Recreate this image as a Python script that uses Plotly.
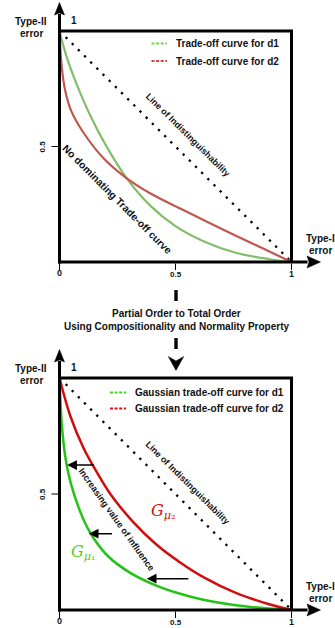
import plotly.graph_objects as go

# ---------------- data ----------------
# top panel: two (non-dominating) trade-off curves
d1_x = [0, 0.03, 0.07, 0.13, 0.2, 0.29, 0.39, 0.5, 0.62, 0.76, 0.9, 1]
d1_y = [1, 0.89, 0.78, 0.64, 0.505, 0.362, 0.245, 0.155, 0.09, 0.04, 0.013, 0]
d2_x = [0, 0.01, 0.025, 0.05, 0.1, 0.19, 0.29, 0.4, 0.52, 0.64, 0.76, 0.88, 1]
d2_y = [1, 0.84, 0.74, 0.655, 0.565, 0.449, 0.362, 0.292, 0.232, 0.172, 0.114, 0.057, 0]
# bottom panel: Gaussian trade-off curves
g1_x = [0, 0.01, 0.025, 0.047, 0.09, 0.133, 0.205, 0.305, 0.42, 0.52, 0.62, 0.76, 0.9, 1]
g1_y = [1, 0.80, 0.66, 0.552, 0.422, 0.332, 0.236, 0.160, 0.104, 0.07, 0.044, 0.02, 0.006, 0]
g2_x = [0, 0.047, 0.104, 0.162, 0.219, 0.319, 0.42, 0.52, 0.62, 0.76, 0.9, 1]
g2_y = [1, 0.835, 0.697, 0.592, 0.50, 0.378, 0.28, 0.205, 0.142, 0.074, 0.026, 0]
# line of indistinguishability
diag_x = [0, 1]
diag_y = [1, 0]
# arrows (from red curve to green curve) in bottom panel
arrow_y = [0.625, 0.329, 0.135]
arrow_from_x = [0.155, 0.233, 0.562]
arrow_to_x = [0.033, 0.126, 0.376]

legend_top = ["Trade-off curve for d1", "Trade-off curve for d2"]
legend_bot = ["Gaussian trade-off curve for d1", "Gaussian trade-off curve for d2"]
tick_labels = ["0", "0.5", "1"]

# ---------------- geometry helpers ----------------
W, H = 335, 628
FONT = "Liberation Sans, Arial, Helvetica, sans-serif"
TXT = "#111111"


def px(x):
    return x / W


def py(y):
    return 1 - y / H


X0, X1 = 59.5, 291.5
panels = [dict(top=31, bot=262), dict(top=378, bot=610)]

fig = go.Figure()

top_green, top_red = "#83bd69", "#c1574f"
bot_green, bot_red = "#22c414", "#d10d0d"

curves = [
    (d1_x, d1_y, top_green, 2.2, "x", "y"),
    (d2_x, d2_y, top_red, 2.2, "x", "y"),
    (g1_x, g1_y, bot_green, 2.5, "x2", "y2"),
    (g2_x, g2_y, bot_red, 2.5, "x2", "y2"),
]
for ax in [("x", "y"), ("x2", "y2")]:
    fig.add_trace(go.Scatter(x=diag_x, y=diag_y, mode="lines", xaxis=ax[0], yaxis=ax[1],
                             line=dict(color="black", width=2.3, dash="2.3px,6.4px"),
                             hoverinfo="skip"))
for xs, ys, c, w, xa, ya in curves:
    fig.add_trace(go.Scatter(x=xs, y=ys, mode="lines", xaxis=xa, yaxis=ya,
                             line=dict(color=c, width=w, shape="spline", smoothing=1.0),
                             hoverinfo="skip"))

axis_common = dict(range=[0, 1], visible=False, fixedrange=True)
layout = dict(
    width=W, height=H, autosize=False,
    margin=dict(l=0, r=0, t=0, b=0, pad=0),
    paper_bgcolor="white", plot_bgcolor="rgba(0,0,0,0)",
    showlegend=False,
    xaxis=dict(domain=[px(X0), px(X1)], anchor="y", **axis_common),
    yaxis=dict(domain=[py(panels[0]["bot"]), py(panels[0]["top"])], anchor="x", **axis_common),
    xaxis2=dict(domain=[px(X0), px(X1)], anchor="y2", **axis_common),
    yaxis2=dict(domain=[py(panels[1]["bot"]), py(panels[1]["top"])], anchor="x2", **axis_common),
)
fig.update_layout(**layout)

shapes = []
annotations = []


def line(x0, y0, x1, y1, w=3, color="black", dash=None):
    d = dict(type="line", xref="paper", yref="paper", x0=px(x0), y0=py(y0), x1=px(x1), y1=py(y1),
             line=dict(color=color, width=w))
    if dash:
        d["line"]["dash"] = dash
    shapes.append(d)


def poly(pts, color="black"):
    path = "M " + " L ".join(f"{px(a):.5f},{py(b):.5f}" for a, b in pts) + " Z"
    shapes.append(dict(type="path", xref="paper", yref="paper", path=path,
                       fillcolor=color, line=dict(color=color, width=0.5)))


def text(x, y, s, size=10, bold=True, anchor="center", angle=0, color=TXT, family=FONT):
    annotations.append(dict(x=px(x), y=py(y), xref="paper", yref="paper", text=s,
                            showarrow=False, xanchor=anchor, yanchor="middle", textangle=angle,
                            font=dict(family=family, size=size, color=color,
                                      weight="bold" if bold else "normal"),
                            borderpad=0))


for p in panels:
    t, b = p["top"], p["bot"]
    mid = (t + b) / 2
    # frame
    line(X0, t - 17, X0, b + 1.5)          # y axis
    line(X0 - 1.5, b, X1 + 16, b)          # x axis
    line(X0 - 1.5, t, X1 + 1.5, t)         # top border
    line(X1, t, X1, b)                     # right border
    # arrow heads
    poly([(X0, t - 28.5), (X0 - 5, t - 16), (X0, t - 18), (X0 + 5, t - 16)])
    poly([(X1 + 29, b), (X1 + 15.5, b - 6), (X1 + 17.5, b), (X1 + 15.5, b + 6)])
    # ticks
    line(X0 - 8, mid, X0 - 1.5, mid, w=1)
    for xv in [X0, (X0 + X1) / 2, X1]:
        line(xv, b + 1.5, xv, b + 8, w=1)
    # tick labels
    text(X0, b + 11, tick_labels[0], size=9)
    text((X0 + X1) / 2, b + 12, tick_labels[1], size=8)
    text(X1, b + 12, tick_labels[2], size=9)
    text(42, mid, tick_labels[1], size=8, angle=-90)
    text(73.5, t - 10.5, tick_labels[2], size=10)
    # axis titles
    text(31, t - 9.5, "Type-II", size=10)
    text(31, t + 2.5, "error", size=10)
    text(320.5, b - 24, "Type-I", size=10)
    text(320.5, b - 12, "error", size=10)
    # line of indistinguishability label
    text(188, mid - 11.5, "Line of Indistinguishability", size=9, angle=44.7)

# legends
for i, (lab, col) in enumerate(zip(legend_top, ["#77d24e", "#d8403a"])):
    yy = 43.5 + 17.5 * i
    line(151.5, yy, 167, yy, w=2, color=col, dash="3px,1.6px")
    text(175, yy, lab, size=10, anchor="left")
for i, (lab, col) in enumerate(zip(legend_bot, ["#33dd11", "#e01010"])):
    yy = 392.5 + 16 * i
    line(110, yy, 126, yy, w=2, color=col, dash="3px,1.6px")
    text(133.5, yy, lab, size=10, anchor="left")

# panel texts
text(117, 200, "No dominating Trade-off curve", size=10.3, angle=45)
text(117, 519.5, "Increasing value of influence", size=9, angle=54.5)
text(150, 511, "<i>G</i><sub><i>μ</i>₂</sub>", size=16, bold=False, anchor="left",
     color=bot_red, family="DejaVu Serif, Liberation Serif, serif")
text(70, 552, "<i>G</i><sub><i>μ</i>₁</sub>", size=16, bold=False, anchor="left",
     color="#4fd11a", family="DejaVu Serif, Liberation Serif, serif")

# middle connector
shapes.append(dict(type="rect", xref="paper", yref="paper", x0=px(174.3), x1=px(177.7),
                   y0=py(301), y1=py(290), fillcolor="black", line=dict(width=0)))
shapes.append(dict(type="rect", xref="paper", yref="paper", x0=px(174.3), x1=px(177.7),
                   y0=py(349), y1=py(338), fillcolor="black", line=dict(width=0)))
poly([(176, 370.5), (168.3, 356.5), (176, 361), (183.7, 356.5)])
text(176, 313.5, "Partial Order to Total Order", size=10)
text(176, 326.5, "Using Compositionality and Normality Property", size=10)

# arrows in bottom panel
for yv, xf, xt in zip(arrow_y, arrow_from_x, arrow_to_x):
    annotations.append(dict(x=xt, y=yv, ax=xf, ay=yv, xref="x2", yref="y2", axref="x2", ayref="y2",
                            text="", showarrow=True, arrowhead=2, arrowsize=1.3, arrowwidth=1.5,
                            arrowcolor="black", standoff=0))

fig.update_layout(shapes=shapes, annotations=annotations)
fig.write_html(
    "out.html",
    config={"displayModeBar": False},
    post_script="document.documentElement.style.margin='0';document.body.style.margin='0';"
                "document.body.style.padding='0';document.body.style.overflow='hidden';",
)
